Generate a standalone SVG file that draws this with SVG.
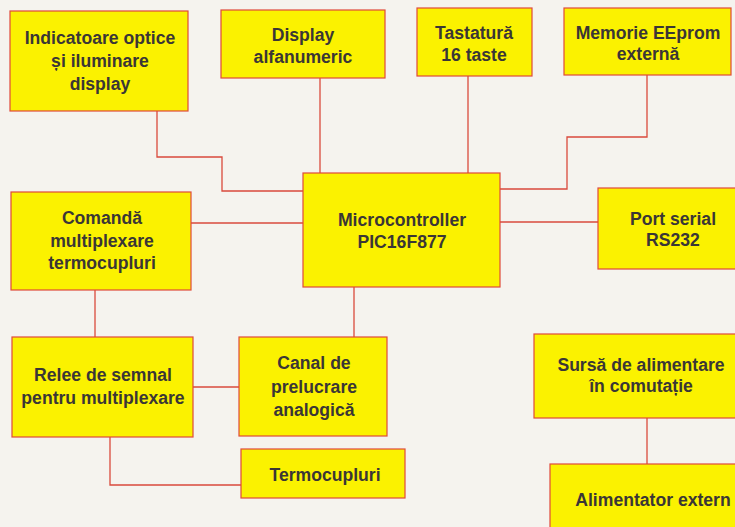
<svg xmlns="http://www.w3.org/2000/svg" width="735" height="527" viewBox="0 0 735 527">
<style>
.box{fill:#fbf200;stroke:#e04a3a;stroke-width:1.2}
.t{font-family:"Liberation Sans",Arial,sans-serif;font-weight:bold;font-size:17.6px;fill:#3a3636;text-anchor:middle}
.c{fill:none;stroke:#d94a3c;stroke-width:1.3}
</style>
<rect width="735" height="527" fill="#f5f3ee"/>
<g id="connectors">
<polyline class="c" points="157,111 157,157 222,157 222,191 303,191"/>
<line class="c" x1="320" y1="78" x2="320" y2="173"/>
<line class="c" x1="468" y1="76" x2="468" y2="173"/>
<polyline class="c" points="647,75 647,137 567,137 567,189 500,189"/>
<line class="c" x1="191" y1="223" x2="303" y2="223"/>
<line class="c" x1="500" y1="222" x2="598" y2="222"/>
<line class="c" x1="95" y1="290" x2="95" y2="337"/>
<line class="c" x1="354" y1="287" x2="354" y2="337"/>
<line class="c" x1="193" y1="387" x2="239" y2="387"/>
<polyline class="c" points="110,437 110,485 241,485"/>
<line class="c" x1="647" y1="418" x2="647" y2="464"/>
</g>
<g id="indicatoare">
<rect class="box" x="10" y="11" width="178" height="100"/>
<text class="t" x="100" y="44">Indicatoare optice</text>
<text class="t" x="100" y="67">și iluminare</text>
<text class="t" x="100" y="90">display</text>
</g>
<g id="display">
<rect class="box" x="221" y="10" width="164" height="68"/>
<text class="t" x="303" y="41">Display</text>
<text class="t" x="303" y="63">alfanumeric</text>
</g>
<g id="tastatura">
<rect class="box" x="417" y="8" width="115" height="68"/>
<text class="t" x="474" y="39">Tastatură</text>
<text class="t" x="474" y="61">16 taste</text>
</g>
<g id="memorie">
<rect class="box" x="564" y="8" width="167" height="67"/>
<text class="t" x="648" y="39">Memorie EEprom</text>
<text class="t" x="648" y="60">externă</text>
</g>
<g id="microcontroller">
<rect class="box" x="303" y="173" width="197" height="114"/>
<text class="t" x="402" y="226">Microcontroller</text>
<text class="t" x="402" y="248">PIC16F877</text>
</g>
<g id="port">
<rect class="box" x="598" y="188" width="150" height="81"/>
<text class="t" x="673" y="225">Port serial</text>
<text class="t" x="673" y="246">RS232</text>
</g>
<g id="comanda">
<rect class="box" x="11" y="192" width="180" height="98"/>
<text class="t" x="102" y="224">Comandă</text>
<text class="t" x="102" y="247">multiplexare</text>
<text class="t" x="102" y="269">termocupluri</text>
</g>
<g id="relee">
<rect class="box" x="12" y="337" width="181" height="100"/>
<text class="t" x="103" y="381">Relee de semnal</text>
<text class="t" x="103" y="404">pentru multiplexare</text>
</g>
<g id="canal">
<rect class="box" x="239" y="337" width="148" height="99"/>
<text class="t" x="314" y="369">Canal de</text>
<text class="t" x="314" y="393">prelucrare</text>
<text class="t" x="314" y="416">analogică</text>
</g>
<g id="termocupluri">
<rect class="box" x="241" y="449" width="164" height="49"/>
<text class="t" x="325" y="481">Termocupluri</text>
</g>
<g id="sursa">
<rect class="box" x="534" y="334" width="220" height="84"/>
<text class="t" x="641" y="371">Sursă de alimentare</text>
<text class="t" x="641" y="392">în comutație</text>
</g>
<g id="alimentator">
<rect class="box" x="550" y="464" width="200" height="80"/>
<text class="t" x="653" y="506">Alimentator extern</text>
</g>
</svg>
